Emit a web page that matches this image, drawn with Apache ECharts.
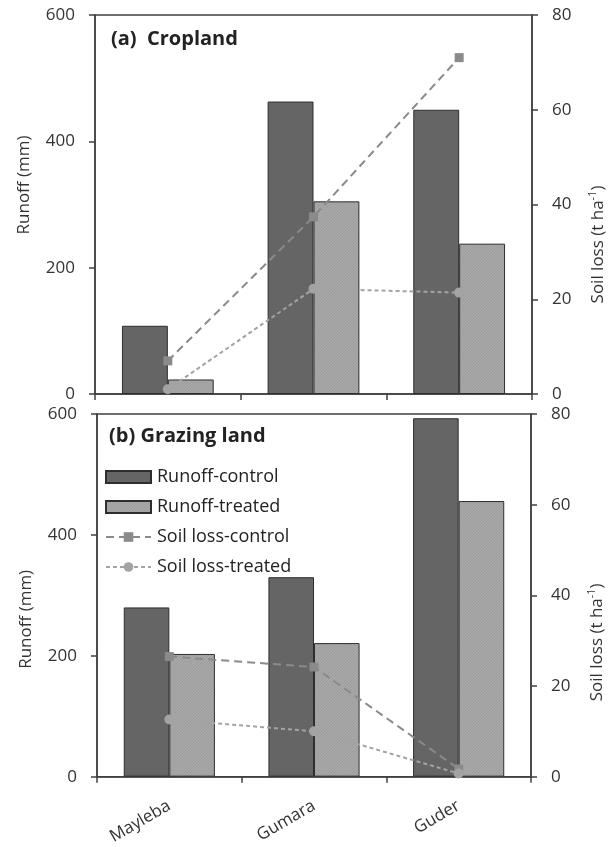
<!DOCTYPE html>
<html>
<head>
<meta charset="utf-8">
<script src="https://cdn.jsdelivr.net/npm/echarts@6/dist/echarts.min.js"></script>
<style>
  html, body { margin: 0; padding: 0; background: #fff; }
  #chart { width: 615px; height: 847px; }
</style>
</head>
<body>
<div id="chart"></div>
<script>
// Sites (categories)
const sites = ['Mayleba', 'Gumara', 'Guder'];

// (a) Cropland
const cropRunoffControl = [108, 463, 450];   // mm
const cropRunoffTreated = [23, 305, 238];    // mm
const cropSoilControl = [7.0, 37.4, 71.0];   // t ha-1
const cropSoilTreated = [1.0, 22.2, 21.4];   // t ha-1

// (b) Grazing land
const grazRunoffControl = [280, 330, 593];
const grazRunoffTreated = [203, 221, 456];
const grazSoilControl = [26.5, 24.2, 1.7];
const grazSoilTreated = [12.6, 10.0, 0.7];

// Axis ranges
const runoffMax = 600, runoffStep = 200;
const soilMax = 80, soilStep = 20;

const FONT = '"Open Sans", sans-serif';
const TEXT = '#333';
const AXIS = '#404040';

// fine diagonal hatch used for the treated bars
function hatch() {
  const c = document.createElement('canvas');
  c.width = 3; c.height = 3;
  const g = c.getContext('2d');
  g.fillStyle = '#a8a8a8';
  g.fillRect(0, 0, 3, 3);
  g.fillStyle = '#9b9b9b';
  g.fillRect(2, 0, 1, 1);
  g.fillRect(1, 1, 1, 1);
  g.fillRect(0, 2, 1, 1);
  return { image: c, repeat: 'repeat' };
}
const treatedFill = hatch();

const grids = [
  { left: 95, top: 15, width: 437, height: 379 },
  { left: 97, top: 414, width: 434, height: 364 }
];

function xAxis(gi, showLabels) {
  return {
    type: 'category', gridIndex: gi, data: sites,
    axisLine: { lineStyle: { color: AXIS, width: 1.5 } },
    axisTick: { show: true, length: 6, lineStyle: { color: AXIS, width: 1.5 } },
    axisLabel: {
      show: showLabels, rotate: 30, margin: 28,
      fontFamily: FONT, fontSize: 17, color: TEXT
    }
  };
}

function runoffAxis(gi, pad) {
  return {
    type: 'value', gridIndex: gi, position: 'left',
    min: 0, max: runoffMax, interval: runoffStep,
    name: 'Runoff (mm)', nameLocation: 'middle', nameGap: 62,
    nameTextStyle: { fontFamily: FONT, fontSize: 17, color: TEXT, padding: pad },
    axisLine: { show: true, lineStyle: { color: AXIS, width: 1.5 } },
    axisTick: { show: true, length: 6, lineStyle: { color: AXIS, width: 1.5 } },
    axisLabel: { fontFamily: FONT, fontSize: 17, color: TEXT, margin: 20 },
    splitLine: { show: false }
  };
}

function soilAxis(gi, pad) {
  return {
    type: 'value', gridIndex: gi, position: 'right',
    min: 0, max: soilMax, interval: soilStep,
    name: 'Soil loss (t ha{sup|-1})', nameLocation: 'middle', nameGap: 55,
    nameTextStyle: {
      fontFamily: FONT, fontSize: 17, color: TEXT, padding: pad,
      rich: { sup: { fontFamily: FONT, fontSize: 11, color: TEXT, verticalAlign: 'top', lineHeight: 22 } }
    },
    axisLine: { show: true, lineStyle: { color: AXIS, width: 1.5 } },
    axisTick: { show: true, length: 6, lineStyle: { color: AXIS, width: 1.5 } },
    axisLabel: { fontFamily: FONT, fontSize: 17, color: TEXT, margin: 20 },
    splitLine: { show: false }
  };
}

function panelSeries(xi, yl, yr, rc, rt, sc, st) {
  return [
    {
      name: 'Runoff-control', type: 'bar', xAxisIndex: xi, yAxisIndex: yl, data: rc,
      barGap: '0%', barCategoryGap: '37%',
      itemStyle: { color: '#656565', borderColor: '#2e2e2e', borderWidth: 1 }
    },
    {
      name: 'Runoff-treated', type: 'bar', xAxisIndex: xi, yAxisIndex: yl, data: rt,
      barGap: '0%', barCategoryGap: '37%',
      itemStyle: { color: treatedFill, borderColor: '#2e2e2e', borderWidth: 1 }
    },
    {
      name: 'Soil loss-control', type: 'line', xAxisIndex: xi, yAxisIndex: yr, data: sc,
      symbol: 'rect', symbolSize: 9, z: 5,
      itemStyle: { color: '#8a8a8a' },
      lineStyle: { color: '#8a8a8a', width: 2, type: [8, 5] }
    },
    {
      name: 'Soil loss-treated', type: 'line', xAxisIndex: xi, yAxisIndex: yr, data: st,
      symbol: 'circle', symbolSize: 10, z: 5,
      itemStyle: { color: '#a3a3a3' },
      lineStyle: { color: '#a3a3a3', width: 2, type: [4, 3] }
    }
  ];
}

const option = {
  animation: false,
  backgroundColor: '#fff',
  grid: grids.map(g => Object.assign({ show: true, borderColor: AXIS, borderWidth: 1.5, backgroundColor: 'transparent' }, g)),
  title: [
    { text: '(a)  Cropland', left: 106, top: 24,
      textStyle: { fontFamily: FONT, fontSize: 20, fontWeight: 'bold', color: '#222' } },
    { text: '(b) Grazing land', left: 104, top: 421,
      textStyle: { fontFamily: FONT, fontSize: 20, fontWeight: 'bold', color: '#222' } }
  ],
  legend: {
    orient: 'vertical', left: 105, top: 468, padding: 0,
    itemWidth: 45, itemHeight: 12, itemGap: 12,
    textStyle: { fontFamily: FONT, fontSize: 18, color: '#222', padding: [0, 0, 0, 1] },
    data: [
      { name: 'Runoff-control', icon: 'rect' },
      { name: 'Runoff-treated', icon: 'rect' },
      'Soil loss-control',
      'Soil loss-treated'
    ]
  },
  xAxis: [xAxis(0, false), xAxis(1, true)],
  yAxis: [
    runoffAxis(0, [0, 0, 0, 39]),
    soilAxis(0, [0, 80, 0, 0]),
    runoffAxis(1, [0, 48, 0, 0]),
    soilAxis(1, [0, 94, 0, 0])
  ],
  series: [
    ...panelSeries(0, 0, 1, cropRunoffControl, cropRunoffTreated, cropSoilControl, cropSoilTreated),
    ...panelSeries(1, 2, 3, grazRunoffControl, grazRunoffTreated, grazSoilControl, grazSoilTreated)
  ]
};

const chart = echarts.init(document.getElementById('chart'), null, { renderer: 'canvas' });
chart.setOption(option);
</script>
</body>
</html>
